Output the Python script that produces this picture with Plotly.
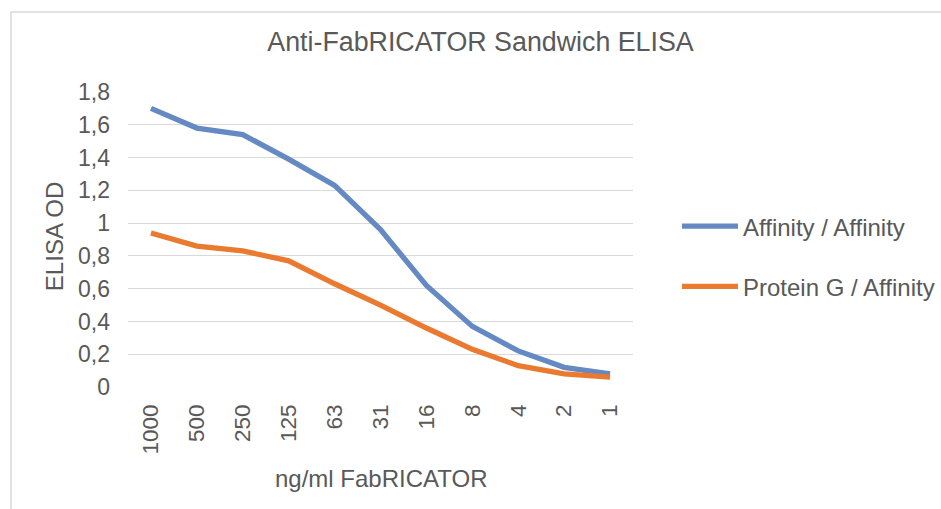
import plotly.graph_objects as go

categories = ["1000", "500", "250", "125", "63", "31", "16", "8", "4", "2", "1"]
affinity_affinity = [1.70, 1.58, 1.54, 1.39, 1.23, 0.96, 0.62, 0.37, 0.22, 0.12, 0.08]
proteinG_affinity = [0.94, 0.86, 0.83, 0.77, 0.63, 0.50, 0.36, 0.23, 0.13, 0.08, 0.06]
series_names = ["Affinity / Affinity", "Protein G / Affinity"]
y_tick_values = [0, 0.2, 0.4, 0.6, 0.8, 1.0, 1.2, 1.4, 1.6, 1.8]

W, H = 941, 509
L, R = 128, 633          # plot area left/right in px
T, B = 92, 386.7         # plot area top/bottom in px

def px_x(p):
    return (p - L) / (R - L)

def px_y(p):
    return (B - p) / (B - T)

FONT = "Liberation Sans, Arial, Helvetica, sans-serif"
GREY = "#595959"
GRID = "#D9D9D9"

fig = go.Figure()
fig.add_trace(go.Scatter(x=categories, y=affinity_affinity, name=series_names[0],
                         mode="lines", line=dict(color="#6589C2", width=5.3),
                         legendgroup="a"))
fig.add_trace(go.Scatter(x=categories, y=proteinG_affinity, name=series_names[1],
                         mode="lines", line=dict(color="#E97A30", width=5.3),
                         legendgroup="b"))

fig.update_layout(
    width=W, height=H, autosize=False,
    margin=dict(l=L, r=W - R, t=T, b=H - B, pad=0, autoexpand=False),
    paper_bgcolor="white", plot_bgcolor="white",
    separators=",.",
    font=dict(family=FONT, color=GREY, size=23),
    title=dict(text="Anti-FabRICATOR Sandwich ELISA", x=480.5 / W, xanchor="center",
               y=1 - 42 / H, yanchor="middle",
               font=dict(family=FONT, size=26.8, color=GREY)),
    xaxis=dict(type="category", range=[-0.5, len(categories) - 0.5],
               showgrid=False, showline=False, zeroline=False,
               tickangle=-90, ticks="", ticklabelstandoff=12, automargin=False,
               tickfont=dict(size=22.5, color=GREY)),
    yaxis=dict(range=[0, 1.8], tickvals=y_tick_values, showgrid=True,
               gridcolor=GRID, gridwidth=1.3, zeroline=False, showline=False,
               ticks="", ticklabelstandoff=17, automargin=False,
               tickfont=dict(size=23, color=GREY)),
    showlegend=True,
    legend=dict(x=px_x(677), xanchor="left", y=px_y(204), yanchor="top",
                font=dict(size=24, color=GREY), bgcolor="rgba(0,0,0,0)",
                tracegroupgap=26, traceorder="grouped", itemwidth=56),
)

# chart border (cropped at right/bottom)
fig.add_shape(type="rect", xref="paper", yref="paper",
              x0=px_x(11), x1=px_x(990), y0=px_y(560), y1=px_y(12),
              line=dict(color=GRID, width=1.5), fillcolor="rgba(0,0,0,0)", layer="below")

# axis titles
fig.add_annotation(text="ng/ml FabRICATOR", xref="paper", yref="paper",
                   x=px_x(381), y=px_y(478), xanchor="center", yanchor="middle",
                   showarrow=False, font=dict(family=FONT, size=24, color=GREY))
fig.add_annotation(text="ELISA OD", xref="paper", yref="paper",
                   x=px_x(54), y=px_y(237), xanchor="center", yanchor="middle",
                   textangle=-90, showarrow=False,
                   font=dict(family=FONT, size=24, color=GREY))

fig.write_html("out.html", config={"displayModeBar": False},
               post_script="document.body.style.margin='0';")
